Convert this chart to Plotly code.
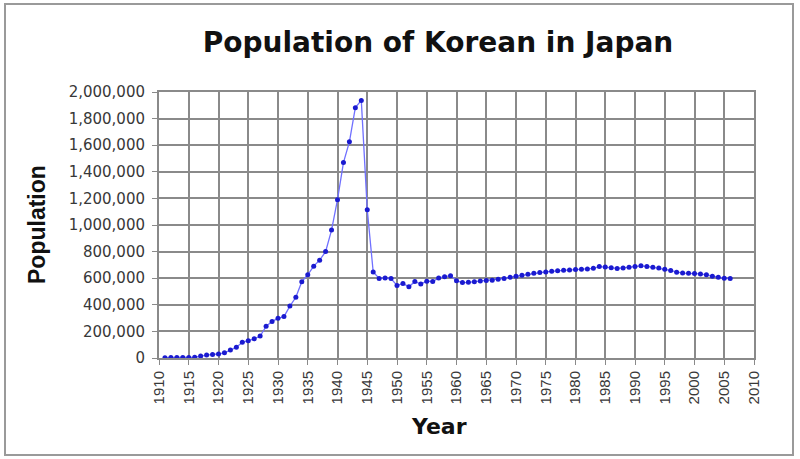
import plotly.graph_objects as go

# Koreans resident in Japan, one value per year
years = list(range(1911, 2007))
population = [
    2527, 3171, 3635, 3542, 3917, 5624, 14502, 22411, 26605, 30189,
    38651, 59722, 80415, 118152, 129870, 143798, 165286, 238102, 275206, 298091,
    311247, 390543, 456217, 573695, 625678, 690501, 735689, 799878, 961591, 1190444,
    1469230, 1625054, 1882456, 1936843, 1115594, 647006, 598507, 601772, 597561, 544903,
    560700, 535065, 575287, 556239, 577682, 575287, 601769, 611085, 619096, 581257,
    567452, 569360, 573537, 578545, 583537, 585278, 591345, 598076, 607315, 614202,
    622690, 629809, 636346, 643096, 647156, 651348, 656233, 659025, 662561, 664536,
    667325, 669854, 674581, 687135, 683313, 677959, 673787, 677140, 681838, 687940,
    693050, 688144, 682276, 676793, 666376, 657159, 645373, 638828, 636548, 635269,
    632405, 625422, 613791, 607419, 598687, 598219,
]

W, H = 800, 459
# plot area in pixels
L, R, T, B = 159, 754, 92, 358


def px_x(x):
    return (x - L) / (R - L)


def px_y(y):
    return (B - y) / (B - T)


fig = go.Figure()

fig.add_trace(go.Scatter(
    x=years,
    y=population,
    mode="lines+markers",
    line=dict(color="#7070ff", width=1.3),
    marker=dict(color="#1a1ad0", size=5, symbol="circle"),
    showlegend=False,
))

x_font = dict(family="Liberation Sans, Arial, sans-serif", size=15, color="#383838")
y_font = dict(family="DejaVu Sans, sans-serif", size=15, color="#383838")
grid = "#8a8a8a"

fig.update_layout(
    width=W,
    height=H,
    margin=dict(l=L, r=W - R, t=T, b=H - B),
    paper_bgcolor="white",
    plot_bgcolor="white",
    title=dict(
        text="<b>Population of Korean in Japan</b>",
        x=438 / W,
        xanchor="center",
        y=1 - 42 / H,
        yanchor="middle",
        font=dict(family="DejaVu Sans, sans-serif", size=28, color="#111111"),
    ),
    xaxis=dict(
        range=[1910, 2010],
        dtick=5,
        tick0=1910,
        tickangle=-90,
        ticks="outside",
        ticklen=5,
        tickcolor=grid,
        tickfont=x_font,
        showgrid=True,
        gridcolor=grid,
        gridwidth=2,
        showline=True,
        linecolor=grid,
        linewidth=2,
        mirror=True,
        zeroline=False,
        fixedrange=True,
    ),
    yaxis=dict(
        range=[0, 2000000],
        dtick=200000,
        tickformat=",",
        ticks="outside",
        ticklen=5,
        tickcolor=grid,
        tickfont=y_font,
        ticklabelstandoff=4,
        showgrid=True,
        gridcolor=grid,
        gridwidth=2,
        showline=True,
        linecolor=grid,
        linewidth=2,
        mirror=True,
        zeroline=False,
        fixedrange=True,
    ),
    annotations=[
        dict(
            text="<b>Year</b>",
            xref="paper", yref="paper",
            x=px_x(439), y=px_y(426),
            showarrow=False,
            xanchor="center", yanchor="middle",
            font=dict(family="DejaVu Sans, sans-serif", size=22, color="#111111"),
        ),
        dict(
            text="<b>Population</b>",
            xref="paper", yref="paper",
            x=px_x(37), y=px_y(225),
            textangle=-90,
            showarrow=False,
            xanchor="center", yanchor="middle",
            font=dict(family="Liberation Sans, Arial, sans-serif", size=23, color="#111111"),
        ),
    ],
    shapes=[
        dict(
            type="rect",
            xref="paper", yref="paper",
            x0=px_x(5), x1=px_x(793),
            y0=px_y(455), y1=px_y(4),
            line=dict(color="#9a9a9a", width=2),
            fillcolor="rgba(0,0,0,0)",
            layer="below",
        )
    ],
)

# drop the browser's default body margin so the figure sits at the page corner
fig.write_html(
    "out.html",
    config={"displayModeBar": False},
    post_script="document.body.style.margin='0';",
)
